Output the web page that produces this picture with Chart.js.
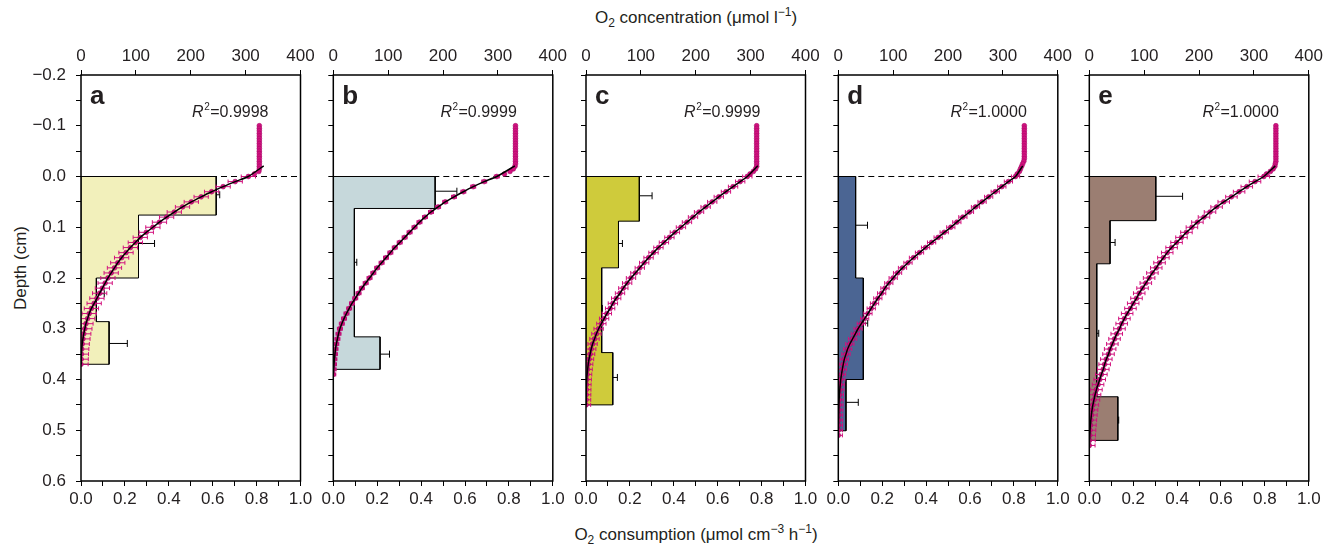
<!DOCTYPE html>
<html>
<head>
<meta charset="utf-8">
<script src="https://cdn.jsdelivr.net/npm/chart.js@4.4.1/dist/chart.umd.min.js"></script>
<style>
  body { margin: 0; background: #fff; font-family: 'Liberation Sans', Arial, sans-serif; color: #231f20; }
  #wrap { position: relative; width: 1336px; height: 547px; overflow: hidden; }
  canvas { position: absolute; top: 30px; }
  .lbl { position: absolute; font-size: 17px; white-space: nowrap; line-height: 20px; }
  .lbl sub { font-size: 12px; vertical-align: -4px; line-height: 0; }
  .lbl sup { font-size: 12px; vertical-align: 7px; line-height: 0; }
  #topTitle { left: 696px; top: 8px; transform: translateX(-50%); }
  #botTitle { left: 696px; top: 525px; transform: translateX(-50%); }
  #depthTitle { left: 21px; top: 268px; transform: translate(-50%, -50%) rotate(-90deg); }
</style>
</head>
<body>
<div id="wrap">
  <div class="lbl" id="topTitle">O<sub>2</sub> concentration (μmol l<sup>−1</sup>)</div>
  <div class="lbl" id="botTitle">O<sub>2</sub> consumption (μmol cm<sup>−3</sup> h<sup>−1</sup>)</div>
  <div class="lbl" id="depthTitle">Depth (cm)</div>
</div>
<script>
// depth grid of the microprofiles (cm): water column and sediment part
const waterDepth = [-0.100, -0.095, -0.090, -0.085, -0.080, -0.075, -0.070, -0.065, -0.060, -0.055,
                    -0.050, -0.045, -0.040, -0.035, -0.030, -0.025, -0.020, -0.015, -0.010, -0.005];
const sedDepth = [0.00, 0.01, 0.02, 0.03, 0.04, 0.05, 0.06, 0.07, 0.08, 0.09,
                  0.10, 0.11, 0.12, 0.13, 0.14, 0.15, 0.16, 0.17, 0.18, 0.19,
                  0.20, 0.21, 0.22, 0.23, 0.24, 0.25, 0.26, 0.27, 0.28, 0.29,
                  0.30, 0.31, 0.32, 0.33, 0.34, 0.35, 0.36, 0.37, 0.38, 0.39,
                  0.40, 0.41, 0.42, 0.43, 0.44, 0.45, 0.46, 0.47, 0.48, 0.49,
                  0.50, 0.51, 0.52, 0.53];

// panel a
const colA = [325, 325, 325, 325, 325, 325, 325, 325, 325, 325, 325, 325, 325, 325, 325, 325, 325, 325, 324, 316];
const profA = [305, 281, 259, 238, 219, 201, 185, 170, 156, 143, 131, 119, 108, 99, 90, 82, 74, 67, 61, 55,
               49, 44, 39, 34, 29, 24, 19, 15, 12, 9, 7, 5, 3.5, 2.2, 1.3, 0.7, 0.3, 0];
const edgesA = [0, 0.076, 0.2, 0.286, 0.37];
const rateA = [0.616, 0.262, 0.07, 0.128];
const rateErrA = [0.016, 0.073, 0.036, 0.083];
const errDepthA = [0.036, 0.132, 0.231, 0.329];

// panel b
const colB = [332, 332, 332, 332, 332, 332, 332, 332, 332, 332, 332, 332, 332, 332, 332, 332, 331, 328, 322, 312];
const profB = [298, 275, 255, 237, 220, 204, 191, 178, 167, 157, 148, 139, 130, 121, 112, 104, 96, 88, 80, 73,
               66, 59, 52, 46, 40, 34, 29, 24, 19.5, 15.5, 12, 9.5, 7.5, 5.5, 4, 3, 2, 1.3, 0.7, 0];
const edgesB = [0, 0.063, 0.316, 0.38];
const rateB = [0.464, 0.096, 0.213];
const rateErrB = [0.099, 0.011, 0.043];
const errDepthB = [0.029, 0.169, 0.35];

// panel c
const colC = [311, 311, 311, 311, 311, 311, 311, 311, 311, 311, 311, 311, 311, 311, 311, 311, 311, 309, 305, 299];
const profC = [294, 281, 268, 255, 242, 230, 218, 206, 195, 184, 173, 162, 152, 142, 132, 123, 114, 106, 98, 90,
               82, 75, 68, 62, 55, 49, 44, 38, 33, 28, 23, 19, 15.5, 12, 9.5, 7.5, 5.5, 4, 3, 2,
               1.3, 0.8, 0.5, 0.3, 0.1, 0];
const edgesC = [0, 0.088, 0.18, 0.347, 0.45];
const rateC = [0.243, 0.148, 0.0715, 0.122];
const rateErrC = [0.058, 0.018, 0.003, 0.021];
const errDepthC = [0.038, 0.132, 0.26, 0.396];

// panel d
const colD = [339, 339, 339, 339, 339, 339, 339, 339, 339, 339, 339, 339, 339, 339, 338, 336, 334, 332, 330, 326];
const profD = [323, 310, 298, 286, 274, 262, 250, 239, 227, 216, 205, 193, 182, 170, 159, 148, 137, 127, 117, 108,
               100, 92, 85, 79, 72, 66, 60, 54, 48, 42, 36, 31, 26, 21, 17, 14, 11, 9, 7.3, 5.8,
               4.5, 3.5, 2.7, 2.0, 1.5, 1.1, 0.8, 0.6, 0.4, 0.2, 0.1, 0];
const edgesD = [0, 0.2, 0.4, 0.501];
const rateD = [0.079, 0.114, 0.035];
const rateErrD = [0.054, 0.02, 0.056];
const errDepthD = [0.096, 0.289, 0.445];

// panel e
const colE = [340, 340, 340, 340, 340, 340, 340, 340, 340, 340, 340, 340, 340, 340, 340, 339, 338, 335, 330, 323];
const profE = [318, 302, 287, 273, 259, 245, 232, 220, 209, 197, 187, 177, 168, 159, 150, 142, 135, 128, 122, 115,
               109, 103, 97, 91, 86, 80, 75, 69, 64, 59, 55, 50, 46, 42, 38, 35, 31, 28, 25.5, 22,
               19, 16, 13, 10.5, 8.5, 6.5, 5, 3.8, 2.8, 2, 1.3, 0.8, 0.3, 0];
const edgesE = [0, 0.087, 0.172, 0.434, 0.52];
const rateE = [0.303, 0.0945, 0.034, 0.130];
const rateErrE = [0.122, 0.023, 0.009, 0.004];
const errDepthE = [0.039, 0.130, 0.309, 0.48];

const letters = ['a', 'b', 'c', 'd', 'e'];
const r2Text = ['0.9998', '0.9999', '0.9999', '1.0000', '1.0000'];
const concErr = [13, 4.5, 8.5, 7.5, 10.5];      // SD of the O2 points (umol/l)
const fitTopDepth = [-0.021, -0.021, -0.021, -0.021, -0.021];
const fitTopConc = [333, 331, 313, 336, 339];

// looks and placement
const barColors = ['#f2f0bb', '#c6d8db', '#cfcb3b', '#4b6593', '#9b7e72'];
const pink = '#d2127e';
const pinkDark = '#a8086a';
const ink = '#231f20';
const fam = "'Liberation Sans', Arial, sans-serif";
const plotLeft = [81, 333.3, 586, 838.3, 1089.3];
const plotW = 219.5;
const r2Right = [32, 36, 45, 31, 30];

/*
 * Plugin that draws the extra bits of every panel:
 * error bars of the rates, error bars of the O2 points, the frame and the texts
 */
const panelDeco = {
    id: 'panelDeco',
    afterDatasetDraw(chart, args, o) {
        if (args.index !== 0) return;
        const ctx = chart.ctx, x = chart.scales.x, y = chart.scales.y;
        ctx.save();
        ctx.strokeStyle = '#000';
        ctx.lineWidth = 1;
        o.rate.forEach((r, k) => {
            const py = y.getPixelForValue(o.errDepth[k]);
            const x0 = x.getPixelForValue(r), x1 = x.getPixelForValue(r + o.rateErr[k]);
            ctx.beginPath();
            ctx.moveTo(x0, py); ctx.lineTo(x1, py);
            ctx.moveTo(x1, py - 3.5); ctx.lineTo(x1, py + 3.5);
            ctx.stroke();
        });
        ctx.restore();
    },
    beforeDatasetDraw(chart, args, o) {
        if (args.index !== 2) return;
        const ctx = chart.ctx, x = chart.scales.x2, y = chart.scales.y, a = chart.chartArea;
        ctx.save();
        ctx.beginPath();
        ctx.rect(a.left, a.top, a.width, a.height);
        ctx.clip();
        ctx.strokeStyle = pink;
        ctx.lineWidth = 1;
        o.conc.forEach((c, k) => {
            const py = y.getPixelForValue(sedDepth[k]);
            const x0 = x.getPixelForValue(c - o.err), x1 = x.getPixelForValue(c + o.err);
            ctx.beginPath();
            ctx.moveTo(x0, py); ctx.lineTo(x1, py);
            ctx.moveTo(x0, py - 2); ctx.lineTo(x0, py + 2);
            ctx.moveTo(x1, py - 2); ctx.lineTo(x1, py + 2);
            ctx.stroke();
        });
        ctx.restore();
    },
    afterDraw(chart, args, o) {
        const ctx = chart.ctx, a = chart.chartArea;
        ctx.save();
        ctx.strokeStyle = '#000';
        ctx.lineWidth = 1.5;
        ctx.strokeRect(a.left, a.top, a.width, a.height);

        ctx.fillStyle = ink;
        ctx.textAlign = 'left';
        ctx.textBaseline = 'alphabetic';
        ctx.font = 'bold 26px ' + fam;
        ctx.fillText(o.letter, a.left + 9, a.top + 29);

        // R^2 = value
        const big = '16px ' + fam;
        ctx.font = 'italic ' + big;
        const wR = ctx.measureText('R').width;
        ctx.font = '10px ' + fam;
        const w2 = ctx.measureText('2').width;
        ctx.font = big;
        const wV = ctx.measureText('=' + o.r2).width;
        let sx = a.right - o.r2Right - (wR + w2 + 1 + wV);
        const by = a.top + 42;
        ctx.font = 'italic ' + big;
        ctx.fillText('R', sx, by);
        sx += wR + 0.5;
        ctx.font = '10px ' + fam;
        ctx.fillText('2', sx, by - 7);
        sx += w2 + 0.5;
        ctx.font = big;
        ctx.fillText('=' + o.r2, sx, by);
        ctx.restore();
    }
};
Chart.register(panelDeco);

function depthLabel(v) {
    const k = Math.round(v * 100);
    if (k % 10 !== 0) return '';
    return (k < 0 ? '\u2212' : '') + Math.abs(k / 100).toFixed(1);
}

function buildPanel(i, col, prof, edges, rate, rateErr, errDepth) {
    const cv = document.createElement('canvas');
    const left = Math.floor(plotLeft[i]) - 60;
    const axisW = plotLeft[i] - left;
    const width = 305;
    const padR = width - axisW - plotW;
    cv.width = width;
    cv.height = 490;
    cv.style.left = left + 'px';
    document.getElementById('wrap').appendChild(cv);

    // outline of the step profile of the rates
    const outline = [{x: 0, y: edges[0]}];
    rate.forEach((r, k) => {
        outline.push({x: r, y: edges[k]}, {x: r, y: edges[k + 1]});
    });
    outline.push({x: 0, y: edges[edges.length - 1]}, {x: 0, y: edges[0]});

    const sedPts = prof.map((c, k) => ({x: c, y: sedDepth[k]}));
    const points = col.map((c, k) => ({x: c, y: waterDepth[k]})).concat(sedPts);
    const fit = [{x: fitTopConc[i], y: fitTopDepth[i]}].concat(sedPts);
    const surface = [{x: 0, y: 0}, {x: 1, y: 0}];

    const tickFont = {family: fam, size: 17};
    const grid = {drawOnChartArea: false, drawTicks: true, tickLength: 5, color: '#000', lineWidth: 1};

    new Chart(cv, {
        type: 'scatter',
        data: {
            datasets: [
                {data: outline, showLine: true, fill: 'shape', backgroundColor: barColors[i],
                 borderColor: '#000', borderWidth: 1, pointRadius: 0, tension: 0,
                 xAxisID: 'x', yAxisID: 'y', order: 4},
                {data: surface, showLine: true, borderColor: '#000', borderWidth: 1.2,
                 borderDash: [6, 4], pointRadius: 0, xAxisID: 'x', yAxisID: 'y', order: 3},
                {data: points, showLine: false, pointRadius: 2.4, pointBackgroundColor: pink,
                 pointBorderColor: pinkDark, pointBorderWidth: 0.6, xAxisID: 'x2', yAxisID: 'y', order: 2},
                {data: fit, showLine: true, borderColor: '#000', borderWidth: 1.5, pointRadius: 0,
                 tension: 0.2, xAxisID: 'x2', yAxisID: 'y', order: 1}
            ]
        },
        options: {
            responsive: false,
            animation: false,
            events: [],
            layout: {padding: {left: 0, right: padR, top: 0, bottom: 0}},
            plugins: {
                legend: {display: false},
                tooltip: {enabled: false},
                panelDeco: {
                    letter: letters[i], r2: r2Text[i], r2Right: r2Right[i],
                    rate: rate, rateErr: rateErr, errDepth: errDepth,
                    conc: prof, err: concErr[i]
                }
            },
            scales: {
                x: {
                    type: 'linear', position: 'bottom', min: 0, max: 1,
                    afterFit(s) { s.height = 39; s.paddingLeft = 0; s.paddingRight = 0; },
                    ticks: {stepSize: 0.1, autoSkip: false, maxRotation: 0, padding: 3, color: ink, font: tickFont,
                            callback: v => Math.round(v * 10) % 2 === 0 ? v.toFixed(1) : ''},
                    grid: grid,
                    border: {display: false}
                },
                x2: {
                    type: 'linear', position: 'top', min: 0, max: 400,
                    afterFit(s) { s.height = 45; s.paddingLeft = 0; s.paddingRight = 0; },
                    ticks: {stepSize: 100, autoSkip: false, maxRotation: 0, padding: 3, color: ink, font: tickFont},
                    grid: grid,
                    border: {display: false}
                },
                y: {
                    type: 'linear', position: 'left', reverse: true, min: -0.2, max: 0.6,
                    afterFit(s) { s.width = axisW; s.paddingTop = 0; s.paddingBottom = 0; },
                    ticks: {display: i === 0, stepSize: 0.05, autoSkip: false, padding: 10, color: ink,
                            font: tickFont, callback: depthLabel},
                    grid: grid,
                    border: {display: false}
                }
            }
        }
    });
}

buildPanel(0, colA, profA, edgesA, rateA, rateErrA, errDepthA);
buildPanel(1, colB, profB, edgesB, rateB, rateErrB, errDepthB);
buildPanel(2, colC, profC, edgesC, rateC, rateErrC, errDepthC);
buildPanel(3, colD, profD, edgesD, rateD, rateErrD, errDepthD);
buildPanel(4, colE, profE, edgesE, rateE, rateErrE, errDepthE);
</script>
</body>
</html>
